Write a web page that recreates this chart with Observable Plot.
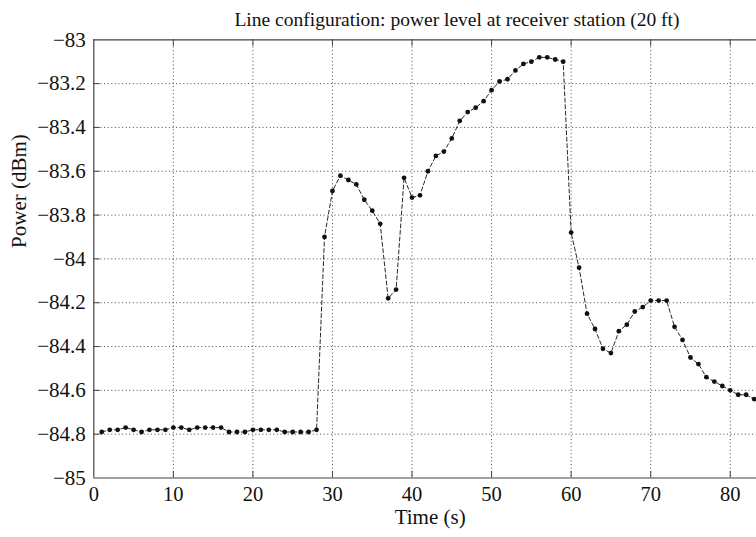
<!DOCTYPE html>
<html><head><meta charset="utf-8">
<script src="https://cdn.jsdelivr.net/npm/d3@7"></script>
<script src="https://cdn.jsdelivr.net/npm/@observablehq/plot@0.6"></script>
<style>
body{margin:0;background:#fff;}
#title{height:24px;width:756px;box-sizing:border-box;padding-left:158px;padding-top:10px;text-align:center;font-family:"Liberation Serif",serif;font-size:19.5px;line-height:20px;color:#111;white-space:nowrap;overflow:visible;}
#chart svg{display:block;}
</style></head><body>
<div id="title">Line configuration: power level at receiver station (20 ft)</div>
<div id="chart"></div>
<script>
const time = [1,2,3,4,5,6,7,8,9,10,11,12,13,14,15,16,17,18,19,20,21,22,23,24,25,26,27,28,29,30,31,32,33,34,35,36,37,38,39,40,41,42,43,44,45,46,47,48,49,50,51,52,53,54,55,56,57,58,59,60,61,62,63,64,65,66,67,68,69,70,71,72,73,74,75,76,77,78,79,80,81,82,83];
const power = [-84.79,-84.78,-84.78,-84.77,-84.78,-84.79,-84.78,-84.78,-84.78,-84.77,
-84.77,-84.78,-84.77,-84.77,-84.77,-84.77,-84.79,-84.79,-84.79,-84.78,
-84.78,-84.78,-84.78,-84.79,-84.79,-84.79,-84.79,-84.78,-83.90,-83.69,
-83.62,-83.64,-83.66,-83.73,-83.78,-83.84,-84.18,-84.14,-83.63,-83.72,
-83.71,-83.60,-83.53,-83.51,-83.45,-83.37,-83.33,-83.31,-83.28,-83.23,
-83.19,-83.18,-83.14,-83.11,-83.10,-83.08,-83.08,-83.09,-83.10,-83.88,
-84.04,-84.25,-84.32,-84.41,-84.43,-84.33,-84.30,-84.24,-84.22,-84.19,
-84.19,-84.19,-84.31,-84.37,-84.45,-84.48,-84.54,-84.56,-84.58,-84.60,
-84.62,-84.62,-84.64];
const xTicks = [0,10,20,30,40,50,60,70,80];
const xTickLabels = ["0","10","20","30","40","50","60","70","80"];
const yTicks = [-85,-84.8,-84.6,-84.4,-84.2,-84,-83.8,-83.6,-83.4,-83.2,-83];
const yTickLabels = ["−85","−84.8","−84.6","−84.4","−84.2","−84","−83.8","−83.6","−83.4","−83.2","−83"];
const xLabel = "Time (s)";
const yLabel = "Power (dBm)";

const data = time.map((t, i) => ({t, p: power[i]}));
const serif = "Liberation Serif";
const frameColor = "#444";
const gridStyle = {stroke: "#333", strokeOpacity: 0.9, strokeWidth: 1, strokeDasharray: "1,2.6"};

const chart = Plot.plot({
  width: 756,
  height: 513,
  marginTop: 15.3,
  marginBottom: 59.5,
  marginLeft: 93.3,
  marginRight: 0,
  style: {fontFamily: "'Liberation Serif', serif", fontSize: "20px", color: "#111", background: "#fff", overflow: "visible"},
  x: {domain: [0, 83.3], axis: null},
  y: {domain: [-85, -83], axis: null},
  marks: [
    Plot.gridX(xTicks.filter(d => d > 0), gridStyle),
    Plot.gridY(yTicks.filter(d => d > -85 && d < -83), gridStyle),
    Plot.ruleX(xTicks.filter(d => d > 0), {y1: -85, y2: -84.97, stroke: frameColor}),
    Plot.ruleX(xTicks.filter(d => d > 0), {y1: -83, y2: -83.03, stroke: frameColor}),
    Plot.ruleY(yTicks.filter(d => d > -85 && d < -83), {x1: 0, x2: 0.8, stroke: frameColor}),
    Plot.ruleX([0], {stroke: frameColor, strokeWidth: 1.2}),
    Plot.ruleY([-85, -83], {stroke: frameColor, strokeWidth: 1.2}),
    Plot.text(xTicks, {x: d => d, y: -85, text: (d, i) => xTickLabels[i], dy: 16, fontSize: 20.5, fontFamily: serif, fill: "#111"}),
    Plot.text(yTicks, {x: 0, y: d => d, text: (d, i) => yTickLabels[i], textAnchor: "end", dx: -8, fontSize: 21, fontFamily: serif, fill: "#111"}),
    Plot.line(data, {x: "t", y: "p", stroke: "#111", strokeWidth: 0.9, strokeDasharray: "4,2.5"}),
    Plot.dot(data, {x: "t", y: "p", r: 2.4, fill: "#111", stroke: "none"}),
    Plot.text([xLabel], {text: d => d, frameAnchor: "bottom", dy: 45.5, dx: 5, fontSize: 21, fontFamily: serif, fill: "#111"}),
    Plot.text([yLabel], {text: d => d, frameAnchor: "left", rotate: -90, dx: -75, dy: -11, fontSize: 21, fontFamily: serif, fill: "#111"})
  ]
});
document.getElementById("chart").appendChild(chart);
</script>
</body></html>
